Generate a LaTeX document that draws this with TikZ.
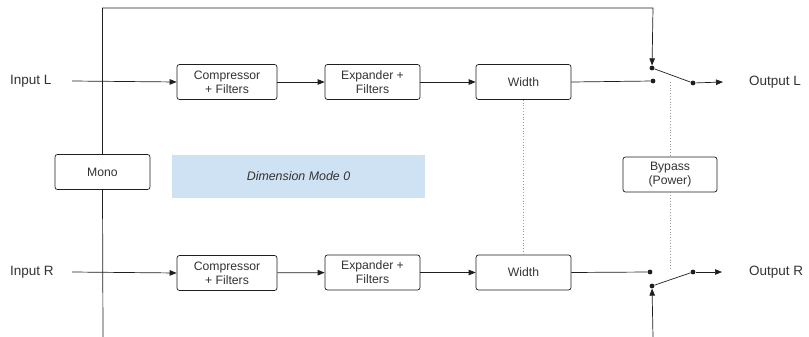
\documentclass[tikz,border=0pt]{standalone}
\usepackage{fontspec}
\setmainfont{Liberation Sans}
\usetikzlibrary{arrows.meta}
\definecolor{ink}{HTML}{1E1E1E}
\definecolor{textgray}{HTML}{333333}
\definecolor{modeblue}{HTML}{CFE2F3}
\definecolor{linkgray}{HTML}{9A9A9A}
\begin{document}
\begin{tikzpicture}[x=1pt,y=-1pt,
  block/.style={draw=ink, fill=white, rounded corners=2.5pt, line width=0.7pt,
    minimum width=95pt, minimum height=35pt, inner sep=0pt, align=center,
    font=\fontsize{12.2}{14}\selectfont, text=textgray},
  wire/.style={draw=ink, line width=0.7pt},
  flow/.style={wire, -{Triangle[length=7pt,width=5.5pt]}},
  swdot/.style={circle, fill=ink, inner sep=0pt, minimum size=4.8pt},
  link/.style={draw=linkgray, dotted, line width=0.8pt},
  lbl/.style={font=\fontsize{13.5}{16}\selectfont, text=textgray, inner sep=0pt, anchor=west}]
\useasboundingbox (0,0) rectangle (809,337);

% signal labels
\node[lbl] (inL)  at (10,81)  {Input L};
\node[lbl] (inR)  at (10,272) {Input R};
\node[lbl] (outL) at (749,82) {Output L};
\node[lbl] (outR) at (749,272) {Output R};

% mode banner
\node[fill=modeblue, minimum width=253pt, minimum height=43pt, inner sep=0pt,
      font=\fontsize{12.4}{14}\selectfont\itshape, text=textgray]
      (mode) at (298.5,176) {Dimension Mode 0};

% feedback path through the mono block
\coordinate (fbBot) at (103,337);
\coordinate (topR)  at (653,8);
\coordinate (byBot) at (653,337);
\node[block] (mono) at (102.5,172) {Mono};

% left channel chain
\node[block, minimum width=100pt] (compL) at (227,82)   {Compressor\\+ Filters};
\node[block] (expL)  at (372.5,82)  {Expander +\\Filters};
\node[block] (widL)  at (523.5,82)  {Width};

% right channel chain
\node[block, minimum width=100pt] (compR) at (227,273)  {Compressor\\+ Filters};
\node[block] (expR)  at (372.5,272.5) {Expander +\\Filters};
\node[block] (widR)  at (523.5,272.5) {Width};

% bypass control
\node[block, minimum width=94pt] (byp) at (670,174.5) {Bypass\\(Power)};

% switch contacts
\node[swdot] (cL) at (653,81) {};
\node[swdot] (pL) at (652,68) {};
\node[swdot] (tL) at (693,83) {};
\node[swdot] (cR) at (650,272) {};
\node[swdot] (pR) at (652,286) {};
\node[swdot] (tR) at (693,272) {};
\coordinate (inLs) at (72,81);
\coordinate (inRs) at (72,272);
\coordinate (outLe) at (723,82);
\coordinate (outRe) at (722,272);
\coordinate (bypTop) at (670,82);
\coordinate (bypEnd) at (670,268);

% feedback wiring
\draw[wire] (mono.south) -- (fbBot);
\draw[flow] (mono.north) -- (mono.north |- topR) -- (topR) -- (pL);
\draw[flow] (byBot) -- (pR);

% left channel wiring
\draw[flow] (inLs) -- (compL.west);
\draw[flow] (compL) -- (expL);
\draw[flow] (expL) -- (widL);
\draw[wire] (widL.east) -- (cL);
\draw[wire] (pL) -- (tL);
\draw[flow] (tL) -- (outLe);

% right channel wiring
\draw[flow] (inRs) -- (compR.west);
\draw[flow] (compR) -- (expR);
\draw[flow] (expR) -- (widR);
\draw[wire] (widR.east) -- (cR);
\draw[wire] (pR) -- (tR);
\draw[flow] (tR) -- (outRe);

% control links
\draw[link] (widL.south) -- (widR.north);
\draw[link] (bypTop) -- (byp.north);
\draw[link] (byp.south) -- (bypEnd);
\end{tikzpicture}
\end{document}
